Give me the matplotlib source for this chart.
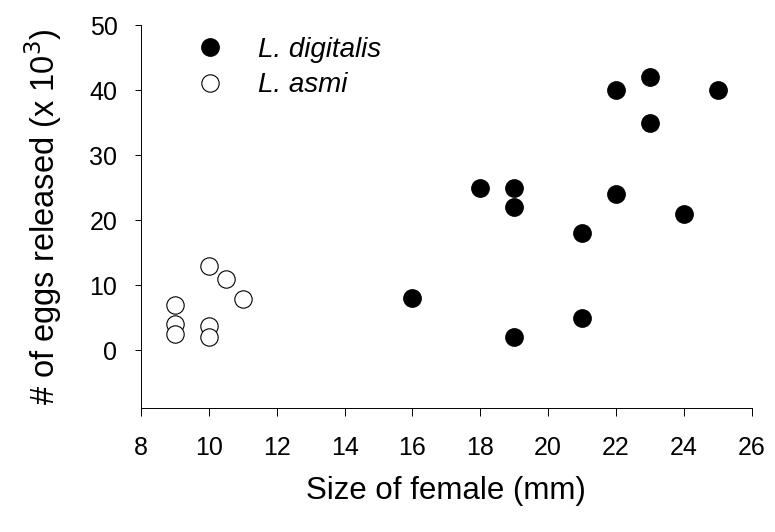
import matplotlib
matplotlib.use("Agg")
import matplotlib.pyplot as plt

plt.rcParams["font.family"] = ["Liberation Sans", "DejaVu Sans"]

# L. digitalis
dig_size = [16, 18, 19, 19, 19, 21, 21, 22, 22, 23, 23, 24, 25]
dig_eggs = [8, 25, 25, 22, 2, 18, 5, 40, 24, 42, 35, 21, 40]

# L. asmi
asmi_size = [9, 9, 9, 10, 10, 10, 10.5, 11]
asmi_eggs = [7, 4, 2.5, 13, 3.7, 2, 11, 7.8]

x_ticks = [8, 10, 12, 14, 16, 18, 20, 22, 24, 26]
y_ticks = [0, 10, 20, 30, 40, 50]

fig = plt.figure(figsize=(7.75, 5.32), dpi=100)
ax = fig.add_axes([0.182, 0.233, 0.788, 0.72])

ax.plot(dig_size, dig_eggs, "o", color="black", markersize=12.5,
        linestyle="none", label="L. digitalis")
ax.plot(asmi_size, asmi_eggs, "o", markerfacecolor="white", markeredgecolor="black",
        markeredgewidth=0.8, markersize=12.5, linestyle="none", label="L. asmi")

ax.set_xlim(8, 26)
ax.set_ylim(-8.9, 50)
ax.set_xticks(x_ticks)
ax.set_yticks(y_ticks)
ax.tick_params(axis="x", direction="out", length=6, width=0.7, labelsize=18, pad=14)
ax.tick_params(axis="y", direction="out", length=4, width=0.7, labelsize=18, pad=13)
for s in ["top", "right"]:
    ax.spines[s].set_visible(False)
for s in ["left", "bottom"]:
    ax.spines[s].set_linewidth(0.7)

ax.set_xlabel("Size of female (mm)", fontsize=22.5, labelpad=12)
ax.set_ylabel("# of eggs released (x 10$^3$)", fontsize=23.5, labelpad=18)

leg = ax.legend(loc="upper left", bbox_to_anchor=(0.05, 1.035), frameon=False,
                fontsize=20, handletextpad=1.2, labelspacing=0.35,
                handlelength=1.0)
for t in leg.get_texts():
    t.set_fontstyle("italic")

fig.savefig("out.png", dpi=100)
